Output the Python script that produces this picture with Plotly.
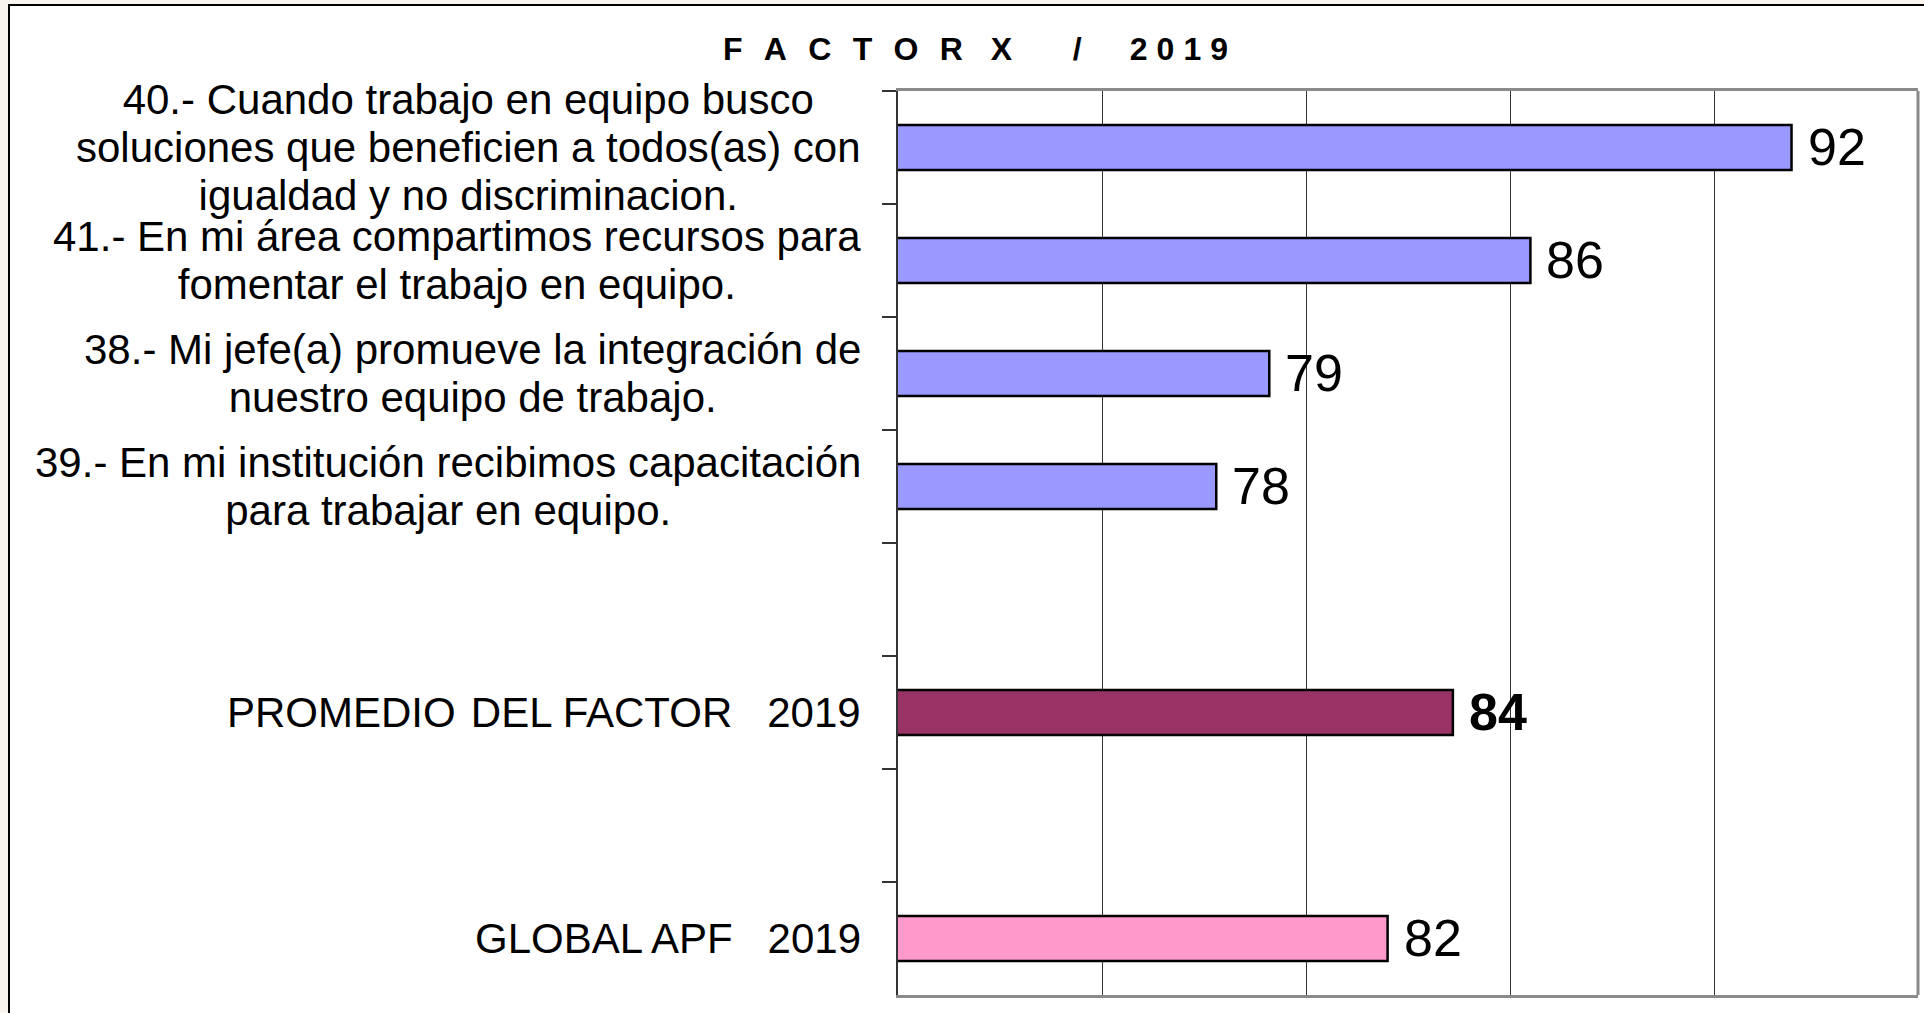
import plotly.graph_objects as go

# ---------------- data ----------------
categories = [
    "40.- Cuando trabajo en equipo busco<br>soluciones que beneficien a todos(as) con<br>igualdad y no discriminacion.",
    "41.- En mi área compartimos recursos para<br>fomentar el trabajo en equipo.",
    "38.- Mi jefe(a) promueve la integración de<br>nuestro equipo de trabajo.",
    "39.- En mi institución recibimos capacitación<br>para trabajar en equipo.",
    " ",
    "PROMEDIO\u200a DEL FACTOR \u00a0 2019",
    "  ",
    "GLOBAL APF \u00a0 2019",
]
question_cats = categories[0:4]
question_vals = [91.9, 85.5, 79.1, 77.8]
promedio_cat = [categories[5]]
promedio_vals = [83.6]
global_cat = [categories[7]]
global_vals = [82.0]
value_labels = ["92", "86", "79", "78", "84", "82"]

SP = "\u2002\u200a\u200a"
title_text = (SP.join("FACTOR") + SP + "\u2009X"
              + "\u2002\u2002\u2002\u2009\u2009/\u2002\u2002\u2002"
              + "\u2009\u200a".join("2019"))

FONT = "Arial, Liberation Sans, sans-serif"

fig = go.Figure()
fig.add_trace(go.Bar(y=question_cats, x=question_vals, orientation="h", width=0.4,
                     marker=dict(color="#9999FF", line=dict(color="black", width=2.5))))
fig.add_trace(go.Bar(y=promedio_cat, x=promedio_vals, orientation="h", width=0.4,
                     marker=dict(color="#993366", line=dict(color="black", width=2.5))))
fig.add_trace(go.Bar(y=global_cat, x=global_vals, orientation="h", width=0.4,
                     marker=dict(color="#FF99CC", line=dict(color="black", width=2.5))))

annotations = []
# category labels: centered multi-line blocks whose right edge sits left of the axis
for cat in categories:
    if not cat.strip():
        continue
    lines = cat.split("<br>")
    txt = "<br>".join(f'<span style="font-size:42px">{ln}</span>' for ln in lines)
    annotations.append(dict(
        xref="paper", yref="y", x=-0.034, y=cat, text=txt,
        xanchor="right", yanchor="middle", align="center",
        showarrow=False, font=dict(family=FONT, size=37, color="black")))

# value labels
all_cats = question_cats + promedio_cat + global_cat
all_vals = question_vals + promedio_vals + global_vals
for cat, v, lab in zip(all_cats, all_vals, value_labels):
    bold = cat in promedio_cat
    annotations.append(dict(
        xref="x", yref="y", x=v, y=cat,
        text=f"<b>{lab}</b>" if bold else lab,
        xanchor="left", yanchor="middle", xshift=14, yshift=1,
        showarrow=False, font=dict(family=FONT, size=52, color="black")))

fig.update_layout(
    annotations=annotations,
    width=1924, height=1013,
    margin=dict(l=898, r=6, t=91, b=18, pad=0),
    paper_bgcolor="#F8F4EE",
    plot_bgcolor="#CCFFFF",
    showlegend=False,
    title=dict(text=title_text, x=975.5 / 1924, xanchor="center",
               y=1 - 49 / 1013, yanchor="middle",
               font=dict(family=FONT, size=32, color="black", weight="bold")),
    xaxis=dict(range=[70, 95], dtick=5, tick0=70, showgrid=True, gridcolor="#333333",
               gridwidth=1, showticklabels=False, ticks="", zeroline=False,
               showline=True, linecolor="#8a8a8a", linewidth=3, mirror=True,
               fixedrange=True),
    yaxis=dict(type="category", categoryorder="array", categoryarray=categories,
               range=[len(categories) - 0.5, -0.5], showticklabels=False, ticks="outside",
               tickson="boundaries", ticklen=14, tickwidth=2, tickcolor="#333333",
               showline=True, linecolor="#333333", linewidth=2, mirror=False,
               showgrid=False, fixedrange=True),
    shapes=[
        dict(type="rect", xref="paper", yref="paper",
             x0=(9 - 898) / 1020, x1=1.2, y0=-0.2, y1=(995 - 5) / 904,
             line=dict(color="black", width=2), fillcolor="white", layer="below"),
        dict(type="line", xref="paper", yref="paper", x0=1, x1=1, y0=0, y1=1,
             line=dict(color="#8a8a8a", width=3)),
    ],
)

fig.write_html("out.html", config={"displayModeBar": False},
               post_script="document.body.style.margin='0';")
